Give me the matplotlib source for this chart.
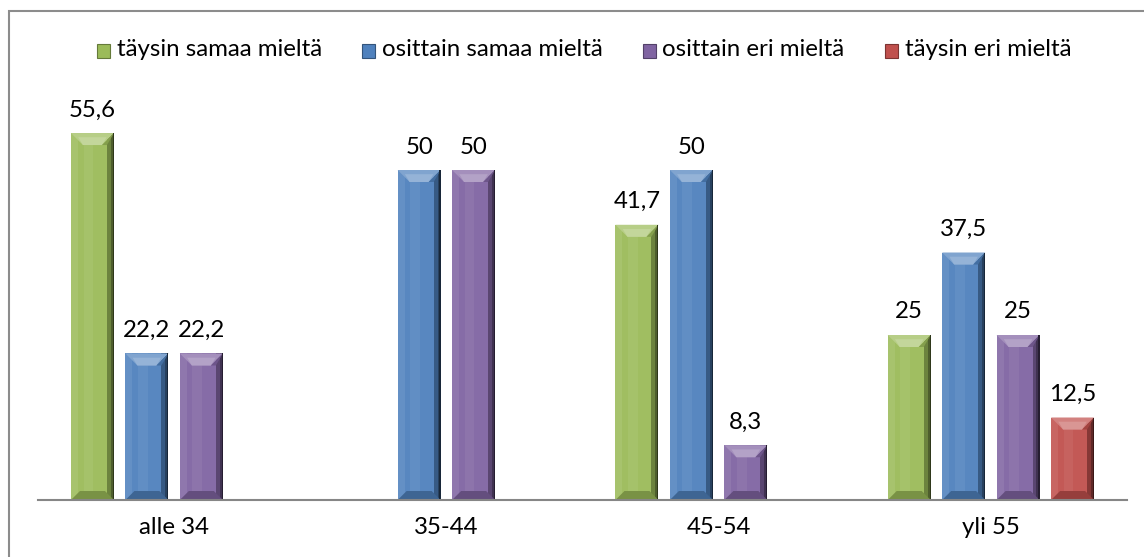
import numpy as np
import matplotlib
matplotlib.use("Agg")
import matplotlib.pyplot as plt
from matplotlib.patches import Polygon, Rectangle
import matplotlib.colors as mcolors

categories = ["alle 34", "35-44", "45-54", "yli 55"]
series_names = ["täysin samaa mieltä", "osittain samaa mieltä", "osittain eri mieltä", "täysin eri mieltä"]
green = [55.6, np.nan, 41.7, 25]
blue = [22.2, 50, 50, 37.5]
purple = [22.2, 50, 8.3, 25]
red = [np.nan, np.nan, np.nan, 12.5]
series_values = [green, blue, purple, red]
colors = ["#9BBB59", "#4F81BD", "#8064A2", "#C0504D"]

plt.rcParams['font.family'] = ['Lato', 'DejaVu Sans']

W, H = 1144, 557
fig = plt.figure(figsize=(W / 100, H / 100), dpi=100)
renderer = fig.canvas.get_renderer()

probe = fig.text(0, 0, "alle 34", fontsize=12)
pw = probe.get_window_extent(renderer).width
probe.remove()
FS = 12 * 70 / pw

ax = fig.add_axes([38 / W, (H - 500) / H, (1127 - 38) / W, (500 - 104) / H])
ax.set_xlim(-0.5, len(categories) - 0.5)
ax.set_ylim(0, 60)

width = 0.158
step = 0.2
x = np.arange(len(categories))

def shade(c, f):
    r, g, b = mcolors.to_rgb(c)
    if f >= 0:
        return (r + (1 - r) * f, g + (1 - g) * f, b + (1 - b) * f)
    f = -f
    return (r * (1 - f), g * (1 - f), b * (1 - f))

px_x = 1 / 272.25          # one pixel in x data units
px_y = 1 / (396 / 60)      # one pixel in y data units

def poly(pts, fc, z=3):
    ax.add_patch(Polygon(pts, closed=True, facecolor=fc, edgecolor="none", zorder=z))

for i, (vals, col) in enumerate(zip(series_values, colors)):
    offs = x + (i - 1.5) * step
    bars = ax.bar(offs, vals, width=width, color=shade(col, 0.05), edgecolor="none", zorder=2)
    for rect, v in zip(bars, vals):
        if np.isnan(v):
            continue
        x0 = rect.get_x()
        x1 = x0 + rect.get_width()
        y0, y1 = 0, v
        tb = min(12 * px_y, v / 2)   # top bevel depth
        bb = min(9 * px_y, v / 2)    # bottom bevel depth
        tx = 12 * px_x
        bxx = 9 * px_x
        sw = 7 * px_x                # side strip width
        # left light strip and right dark strips
        poly([(x0, y0), (x0 + sw, y0), (x0 + sw, y1), (x0, y1)], shade(col, 0.12))
        poly([(x1 - sw, y0), (x1, y0), (x1, y1), (x1 - sw, y1)], shade(col, -0.3))
        poly([(x1 - sw * 0.45, y0), (x1, y0), (x1, y1), (x1 - sw * 0.45, y1)], shade(col, -0.5))
        # central lighter band
        poly([(x0 + sw * 1.8, y0), (x0 + sw * 3.2, y0), (x0 + sw * 3.2, y1), (x0 + sw * 1.8, y1)],
             shade(col, 0.1))
        # top bevel
        poly([(x0, y1), (x1, y1), (x1 - tx, y1 - tb), (x0 + tx, y1 - tb)], shade(col, 0.28), 4)
        poly([(x0 + tx * 0.6, y1 - tb * 0.35), (x1 - tx * 0.6, y1 - tb * 0.35),
              (x1 - tx, y1 - tb), (x0 + tx, y1 - tb)], shade(col, 0.4), 4)
        poly([(x1, y1), (x1 - tx, y1 - tb), (x1 - sw, y1 - tb)], shade(col, -0.15), 4)
        # bottom bevel
        poly([(x0, y0), (x1, y0), (x1 - bxx, y0 + bb), (x0 + bxx, y0 + bb)], shade(col, -0.22), 4)
        # thin dark right edge
        ax.add_patch(Rectangle((x1 - 1.2 * px_x, y0), 1.2 * px_x, y1 - y0,
                               facecolor=shade(col, -0.7), edgecolor="none", zorder=5))
        label = f"{v:g}".replace(".", ",")
        ax.annotate(label, (rect.get_x() + rect.get_width() / 2, v), xytext=(0, 9),
                    textcoords="offset points", ha="center", va="bottom", fontsize=FS,
                    color="#000000")

for s in ["top", "right", "left"]:
    ax.spines[s].set_visible(False)
ax.spines["bottom"].set_color("#868686")
ax.spines["bottom"].set_linewidth(1.5)
ax.spines["bottom"].set_zorder(6)
ax.set_yticks([])
ax.set_xticks(x)
ax.set_xticklabels(categories, fontsize=FS)
ax.tick_params(axis="x", length=0, pad=12)
ax.patch.set_alpha(0)

marker_x = [97, 362, 643, 885]
text_x = [117, 382, 662, 905]
leg_y = 50
msz = 13
for mx, tx, name, col in zip(marker_x, text_x, series_names, colors):
    fig.patches.append(Rectangle((mx / W, 1 - (leg_y + msz / 2 + 1) / H), msz / W, msz / H,
                                 transform=fig.transFigure, facecolor=col,
                                 edgecolor=shade(col, -0.35), linewidth=0.8))
    fig.text(tx / W, 1 - leg_y / H, name, fontsize=FS, ha="left", va="center")

fig.patches.append(Rectangle((9 / W, -0.1), 2, 1.1 - 11 / H, transform=fig.transFigure,
                             facecolor="none", edgecolor="#8c8c8c", linewidth=1.5))

fig.savefig("out.png", dpi=100)
